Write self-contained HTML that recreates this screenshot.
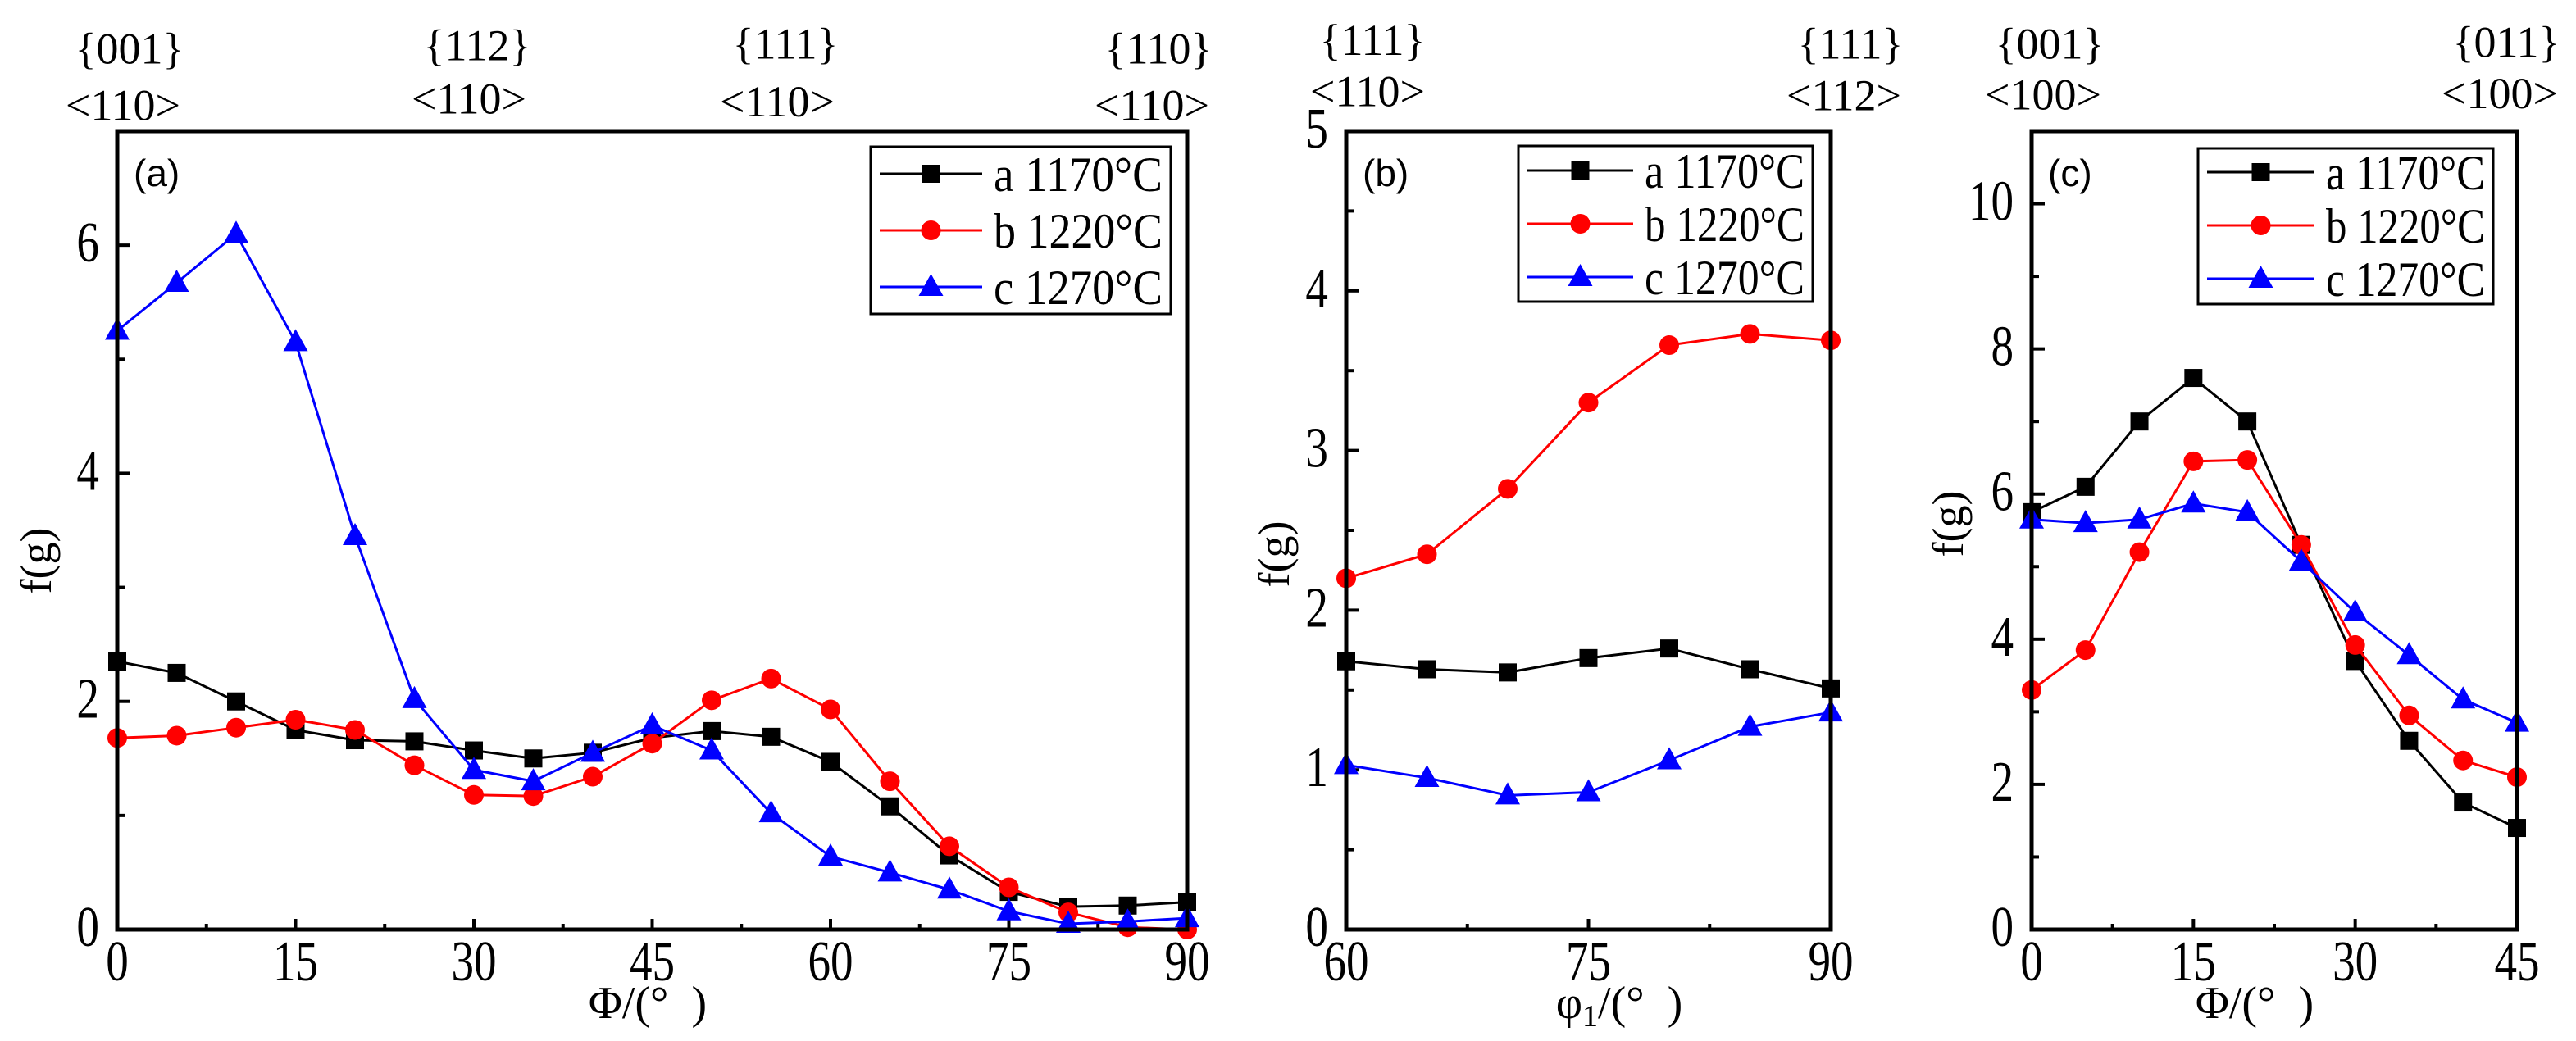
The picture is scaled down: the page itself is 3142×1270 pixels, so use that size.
<!DOCTYPE html>
<html><head><meta charset="utf-8"><style>
html,body{margin:0;padding:0;background:#fff;overflow:hidden}
svg{display:block}
text{font-family:"Liberation Serif",serif}
</style></head><body>
<svg id="fig" width="3142" height="1270" viewBox="0 0 3142 1270" xmlns="http://www.w3.org/2000/svg"></svg>
<script>
const seriesNames=["a 1170°C","b 1220°C","c 1270°C"];
const colors=["#000","#f00","#00f"];
const aX=[0,5,10,15,20,25,30,35,40,45,50,55,60,65,70,75,80,85,90];
const aBlack=[2.35,2.25,2.0,1.75,1.66,1.65,1.57,1.5,1.55,1.68,1.74,1.69,1.47,1.08,0.65,0.33,0.2,0.21,0.24];
const aRed=[1.68,1.7,1.77,1.84,1.75,1.44,1.18,1.17,1.34,1.63,2.01,2.2,1.93,1.3,0.73,0.37,0.15,0.02,0.0];
const aBlue=[5.25,5.67,6.1,5.15,3.45,2.02,1.4,1.3,1.55,1.79,1.57,1.02,0.64,0.5,0.35,0.16,0.05,0.07,0.1];
const bX=[60,65,70,75,80,85,90];
const bBlack=[1.68,1.63,1.61,1.70,1.76,1.63,1.51];
const bRed=[2.2,2.35,2.76,3.3,3.66,3.73,3.69];
const bBlue=[1.03,0.95,0.84,0.86,1.06,1.27,1.36];
const cX=[0,5,10,15,20,25,30,35,40,45];
const cBlack=[5.75,6.1,7.0,7.6,7.0,5.3,3.7,2.6,1.75,1.4];
const cRed=[3.3,3.85,5.2,6.45,6.47,5.3,3.92,2.95,2.33,2.1];
const cBlue=[5.65,5.6,5.65,5.87,5.75,5.07,4.37,3.78,3.17,2.85];
const aXTicks=[0,15,30,45,60,75,90];
const aYTicks=[0,2,4,6];
const bXTicks=[60,75,90];
const bYTicks=[0,1,2,3,4,5];
const cXTicks=[0,15,30,45];
const cYTicks=[0,2,4,6,8,10];

const NS="http://www.w3.org/2000/svg";
const svg=document.getElementById('fig');
function mk(tag,attrs,parent,txt){const e=document.createElementNS(NS,tag);for(const k in attrs)e.setAttribute(k,attrs[k]);if(txt!==undefined)e.textContent=txt;(parent||svg).appendChild(e);return e;}

function panel(o){
  const g=mk('g',{});
  
  
  const sx=v=>o.L+(v-o.x0)/(o.x1-o.x0)*(o.R-o.L);
  const sy=v=>o.B-(v-o.y0)/(o.y1-o.y0)*(o.B-o.T);
  const xs=o.xTicks, step=xs[1]-xs[0];
  for(let i=0;i<xs.length;i++){
    const x=sx(xs[i]);
    const t=mk('line',{x1:x,x2:x,y1:o.B,y2:o.B-13,stroke:'#000','stroke-width':4},g);
    
    const l=mk('text',{x:x,y:1196,'text-anchor':'middle','font-size':58,transform:'translate('+x+',1196) scale(0.95,1.2) translate('+(-x)+',-1196)'},g,xs[i]);
    
    if(i<xs.length-1){const m=sx(xs[i]+step/2);mk('line',{x1:m,x2:m,y1:o.B,y2:o.B-7,stroke:'#000','stroke-width':4},g);}
  }
  const ys=o.yTicks, ystep=ys[1]-ys[0];
  for(let i=0;i<ys.length;i++){
    const y=sy(ys[i]);
    const t=mk('line',{x1:o.L,x2:o.L+16,y1:y,y2:y,stroke:'#000','stroke-width':4},g);
    
    const by=y+20;
    const l=mk('text',{x:o.L-22,y:by,'text-anchor':'end','font-size':58,transform:'translate('+(o.L-22)+','+by+') scale(0.95,1.2) translate('+(22-o.L)+','+(-by)+')'},g,ys[i]);
    
    const m=ys[i]+ystep/2; if(m<o.y1){const my=sy(m);mk('line',{x1:o.L,x2:o.L+9,y1:my,y2:my,stroke:'#000','stroke-width':4},g);}
  }
  const clip='clip-'+o.id;
  const cp=mk('clipPath',{id:clip},g);mk('rect',{x:o.L-20,y:o.T,width:o.R-o.L+40,height:o.B-o.T+20},cp);
  const sg=mk('g',{'clip-path':'url(#'+clip+')'},g);
  o.series.forEach((ser,si)=>{
    const pts=o.xs.map((x,i)=>sx(x)+','+sy(ser[i])).join(' ');
    const pl=mk('polyline',{points:pts,fill:'none',stroke:colors[si],'stroke-width':3},sg);
    
    o.xs.forEach((x,i)=>{const m=marker(si,sx(x),sy(ser[i]),sg);
      
      });
  });
  const fr=mk('rect',{x:o.L,y:o.T,width:o.R-o.L,height:o.B-o.T,fill:'none',stroke:'#000','stroke-width':5},g);
  
  const pl=mk('text',{x:o.L+20,y:o.T+67,'font-size':46,style:'font-family:"Liberation Sans",sans-serif'},g,'('+o.id+')');
  
  const lg=mk('g',{},g);
  
  mk('rect',{x:o.lg.x,y:o.lg.y,width:o.lg.w,height:o.lg.h,fill:'#fff',stroke:'#000','stroke-width':3},lg);
  seriesNames.forEach((n,si)=>{
    const y=o.lg.y+o.lg.y0+si*o.lg.dy;
    const e=mk('g',{},lg);
    
    mk('line',{x1:o.lg.x+11,x2:o.lg.x+o.lg.ll,y1:y,y2:y,stroke:colors[si],'stroke-width':3},e);
    marker(si,o.lg.x+11+(o.lg.ll-11)/2,y,e);
    mk('text',{x:o.lg.x+o.lg.ll+14,y:y+21,'font-size':60,textLength:o.lg.w-o.lg.ll-24,lengthAdjust:'spacingAndGlyphs'},e,n);
  });
  const yt=mk('text',{x:0,y:0,'font-size':54,'text-anchor':'middle',transform:'translate('+o.ytx+','+o.yty+') rotate(-90)'},g,'f(g)');
  
  const xt=mk('text',{x:o.xtx,y:1242,'font-size':56,'text-anchor':'middle'},g);
  
  xt.innerHTML=o.xtitle;
  o.top.forEach(t=>{
    const a=mk('text',{x:t[0],y:t[1]/1.228+18,'font-size':54,'text-anchor':'middle'},g,t[2]);
    
    const b=mk('text',{x:t[3],y:t[4]/1.228+18,'font-size':54,'text-anchor':'middle'},g,t[5]);
    
  });
}
function marker(si,x,y,p){
  if(si===0)return mk('rect',{x:x-11,y:y-11,width:22,height:22,fill:'#000'},p);
  if(si===1)return mk('circle',{cx:x,cy:y,r:12,fill:'#f00'},p);
  return mk('polygon',{points:(x)+','+(y-16)+' '+(x-15)+','+(y+11)+' '+(x+15)+','+(y+11),fill:'#00f'},p);
}
panel({id:'a',L:143,R:1448,T:160,B:1134,x0:0,x1:90,y0:0,y1:7,xs:aX,series:[aBlack,aRed,aBlue],xTicks:aXTicks,yTicks:aYTicks,
  lg:{x:1062,y:179,w:366,h:204,y0:33,dy:69,ll:136},ytx:62,yty:684,xtx:790,xtitle:'Φ/(°&#160;&#160;)',
  top:[[158,73,'{001}',150,158,'<110>'],[582,68,'{112}',572,148,'<110>'],[958,66,'{111}',948,152,'<110>'],[1413,73,'{110}',1405,158,'<110>']]});
panel({id:'b',L:1642,R:2233,T:160,B:1134,x0:60,x1:90,y0:0,y1:5,xs:bX,series:[bBlack,bRed,bBlue],xTicks:bXTicks,yTicks:bYTicks,
  lg:{x:1852,y:178,w:359,h:190,y0:30,dy:65,ll:140},ytx:1572,yty:676,xtx:1975,xtitle:'φ<tspan font-size="38" dy="10">1</tspan><tspan dy="-10">/(°&#160;&#160;)</tspan>',
  top:[[1674,60,'{111}',1668,137,'<110>'],[2257,66,'{111}',2249,143,'<112>']]});
panel({id:'c',L:2478,R:3070,T:160,B:1134,x0:0,x1:45,y0:0,y1:11,xs:cX,series:[cBlack,cRed,cBlue],xTicks:cXTicks,yTicks:cYTicks,
  lg:{x:2681,y:181,w:360,h:190,y0:29,dy:65,ll:142},ytx:2394,yty:639,xtx:2750,xtitle:'Φ/(°&#160;&#160;)',
  top:[[2500,66,'{001}',2492,142,'<100>'],[3057,63,'{011}',3049,140,'<100>']]});
</script>
</body></html>
